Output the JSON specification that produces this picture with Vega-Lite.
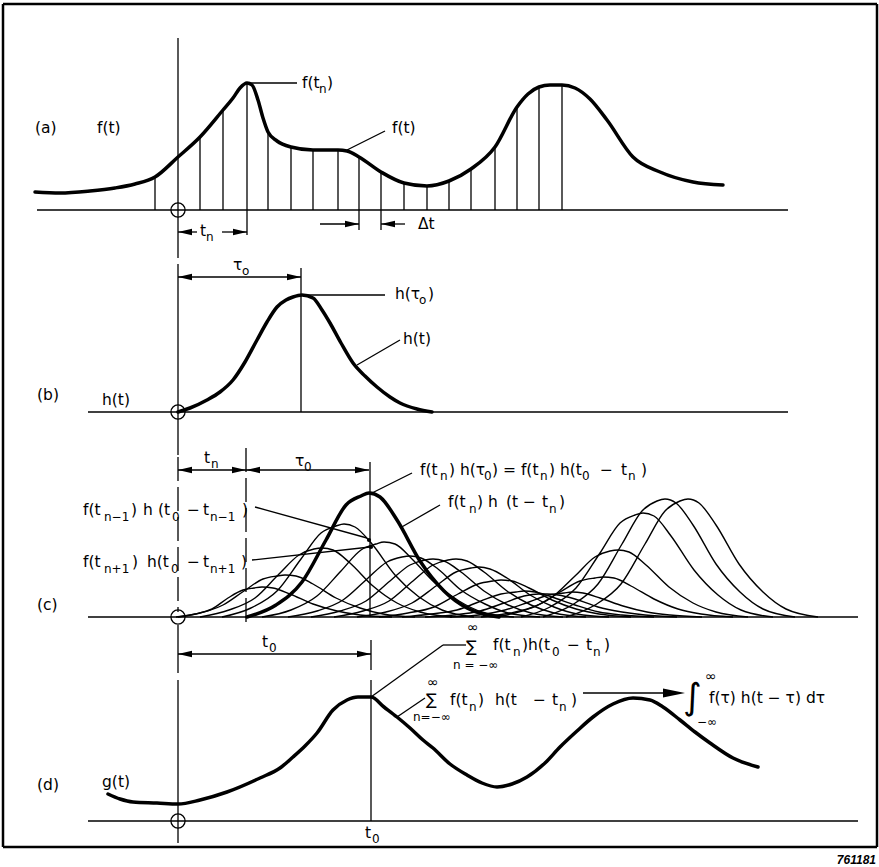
{
"$schema": "https://vega.github.io/schema/vega-lite/v6.json",
"width": 879, "height": 867, "padding": 0, "autosize": "none",
"background": "white",
"config": {"view": {"stroke": null}},
"datasets": {
"frame": [
{"x":3,"y":4,"x2":877,"y2":4},{"x":877,"y":4,"x2":877,"y2":847},{"x":877,"y":847,"x2":3,"y2":847},{"x":3,"y":847,"x2":3,"y2":4}
],
"seg": [
{"x":37,"y":210,"x2":788,"y2":210},{"x":88,"y":412,"x2":788,"y2":412},{"x":88,"y":617,"x2":858,"y2":617},{"x":88,"y":821,"x2":858,"y2":821},
{"x":178,"y":38,"x2":178,"y2":258},{"x":178,"y":264,"x2":178,"y2":455},{"x":178,"y":625,"x2":178,"y2":673},{"x":178,"y":680,"x2":178,"y2":843},
{"x":301,"y":268,"x2":301,"y2":412},{"x":370,"y":462,"x2":370,"y2":617},{"x":371,"y":640,"x2":371,"y2":670},{"x":371,"y":680,"x2":371,"y2":821},
{"x":155,"y":210,"x2":155,"y2":177},{"x":200,"y":210,"x2":200,"y2":137},{"x":223,"y":210,"x2":223,"y2":110},{"x":247,"y":235,"x2":247,"y2":83},
{"x":268,"y":210,"x2":268,"y2":132},{"x":291,"y":210,"x2":291,"y2":147},{"x":313,"y":210,"x2":313,"y2":150},{"x":338,"y":210,"x2":338,"y2":150},
{"x":359,"y":230,"x2":359,"y2":157},{"x":381,"y":230,"x2":381,"y2":172},{"x":404,"y":210,"x2":404,"y2":183},{"x":427,"y":210,"x2":427,"y2":186},
{"x":449,"y":210,"x2":449,"y2":181},{"x":471,"y":210,"x2":471,"y2":169},{"x":495,"y":210,"x2":495,"y2":147},{"x":517,"y":210,"x2":517,"y2":107},
{"x":539,"y":210,"x2":539,"y2":87},{"x":562,"y":210,"x2":562,"y2":85},
{"x":178,"y":232,"x2":197,"y2":232},{"x":222,"y":232,"x2":247,"y2":232},{"x":320,"y":224,"x2":359,"y2":224},{"x":381,"y":224,"x2":405,"y2":224},
{"x":178,"y":277,"x2":301,"y2":277},{"x":178,"y":470,"x2":246,"y2":470},{"x":246,"y":470,"x2":369,"y2":470},{"x":178,"y":654,"x2":371,"y2":654},
{"x":247,"y":83,"x2":297,"y2":83},{"x":347,"y":150,"x2":385,"y2":131},{"x":302,"y":295,"x2":385,"y2":295},{"x":357,"y":365,"x2":400,"y2":340},
{"x":372,"y":493,"x2":412,"y2":473},{"x":400,"y":528,"x2":440,"y2":505},{"x":255,"y":507,"x2":367,"y2":538},{"x":252,"y":560,"x2":370,"y2":547},
{"x":371,"y":697,"x2":443,"y2":645},{"x":443,"y":645,"x2":466,"y2":645},{"x":397,"y":717,"x2":425,"y2":698},{"x":583,"y":693,"x2":665,"y2":693}
],
"dash": [
{"x":178,"y":457,"x2":178,"y2":612},{"x":246,"y":448,"x2":246,"y2":627}
],
"thick": [
{"c":"f","x":35,"y":192},{"c":"f","x":60,"y":193},{"c":"f","x":90,"y":191},{"c":"f","x":115,"y":188},{"c":"f","x":135,"y":184},{"c":"f","x":155,"y":177},{"c":"f","x":178,"y":157},{"c":"f","x":200,"y":137},{"c":"f","x":223,"y":110},{"c":"f","x":233,"y":98},{"c":"f","x":240,"y":88},{"c":"f","x":247,"y":83},{"c":"f","x":252,"y":85},{"c":"f","x":258,"y":100},{"c":"f","x":263,"y":118},{"c":"f","x":268,"y":132},{"c":"f","x":277,"y":141},{"c":"f","x":291,"y":147},{"c":"f","x":313,"y":150},{"c":"f","x":338,"y":150},{"c":"f","x":347,"y":151},{"c":"f","x":359,"y":157},{"c":"f","x":381,"y":172},{"c":"f","x":404,"y":183},{"c":"f","x":427,"y":186},{"c":"f","x":449,"y":181},{"c":"f","x":471,"y":169},{"c":"f","x":495,"y":147},{"c":"f","x":517,"y":107},{"c":"f","x":528,"y":94},{"c":"f","x":539,"y":87},{"c":"f","x":550,"y":85},{"c":"f","x":562,"y":85},{"c":"f","x":575,"y":88},{"c":"f","x":590,"y":99},{"c":"f","x":607,"y":120},{"c":"f","x":633,"y":157},{"c":"f","x":660,"y":172},{"c":"f","x":693,"y":182},{"c":"f","x":723,"y":185},
{"c":"h","x":178,"y":412},{"c":"h","x":190,"y":408},{"c":"h","x":207,"y":400},{"c":"h","x":220,"y":392},{"c":"h","x":233,"y":380},{"c":"h","x":245,"y":362},{"c":"h","x":257,"y":340},{"c":"h","x":267,"y":322},{"c":"h","x":277,"y":307},{"c":"h","x":286,"y":300},{"c":"h","x":293,"y":297},{"c":"h","x":302,"y":295},{"c":"h","x":313,"y":298},{"c":"h","x":322,"y":310},{"c":"h","x":330,"y":323},{"c":"h","x":341,"y":343},{"c":"h","x":353,"y":363},{"c":"h","x":365,"y":376},{"c":"h","x":377,"y":387},{"c":"h","x":390,"y":397},{"c":"h","x":400,"y":403},{"c":"h","x":417,"y":409},{"c":"h","x":432,"y":412},
{"c":"H5","x":247,"y":617},{"c":"H5","x":276,"y":605},{"c":"H5","x":302,"y":582},{"c":"H5","x":326,"y":540},{"c":"H5","x":346,"y":505},{"c":"H5","x":361,"y":496},{"c":"H5","x":369,"y":493},{"c":"H5","x":380,"y":497},{"c":"H5","x":397,"y":520},{"c":"H5","x":420,"y":561},{"c":"H5","x":444,"y":591},{"c":"H5","x":467,"y":608},{"c":"H5","x":499,"y":617},
{"c":"g","x":108,"y":794},{"c":"g","x":120,"y":799},{"c":"g","x":133,"y":802},{"c":"g","x":157,"y":803},{"c":"g","x":178,"y":804},{"c":"g","x":200,"y":800},{"c":"g","x":227,"y":792},{"c":"g","x":260,"y":778},{"c":"g","x":280,"y":768},{"c":"g","x":293,"y":757},{"c":"g","x":305,"y":746},{"c":"g","x":317,"y":733},{"c":"g","x":333,"y":710},{"c":"g","x":347,"y":700},{"c":"g","x":358,"y":697},{"c":"g","x":371,"y":697},{"c":"g","x":384,"y":707},{"c":"g","x":397,"y":717},{"c":"g","x":410,"y":728},{"c":"g","x":423,"y":740},{"c":"g","x":433,"y":748},{"c":"g","x":450,"y":764},{"c":"g","x":467,"y":775},{"c":"g","x":482,"y":783},{"c":"g","x":497,"y":787},{"c":"g","x":512,"y":784},{"c":"g","x":527,"y":777},{"c":"g","x":545,"y":763},{"c":"g","x":560,"y":747},{"c":"g","x":577,"y":731},{"c":"g","x":593,"y":717},{"c":"g","x":613,"y":704},{"c":"g","x":633,"y":698},{"c":"g","x":650,"y":700},{"c":"g","x":663,"y":707},{"c":"g","x":680,"y":720},{"c":"g","x":695,"y":732},{"c":"g","x":710,"y":743},{"c":"g","x":733,"y":758},{"c":"g","x":758,"y":767}
],
"humps": [
{"g":"H1","x":176,"y":617},{"g":"H1","x":195,"y":614},{"g":"H1","x":212,"y":609},{"g":"H1","x":228,"y":598},{"g":"H1","x":243,"y":590},{"g":"H1","x":254,"y":588},{"g":"H1","x":262,"y":587},{"g":"H1","x":273,"y":588},{"g":"H1","x":290,"y":594},{"g":"H1","x":313,"y":604},{"g":"H1","x":337,"y":611},{"g":"H1","x":360,"y":615},{"g":"H1","x":392,"y":617},
{"g":"H2","x":178,"y":617},{"g":"H2","x":200,"y":613},{"g":"H2","x":223,"y":605},{"g":"H2","x":244,"y":591},{"g":"H2","x":263,"y":579},{"g":"H2","x":277,"y":576},{"g":"H2","x":285,"y":575},{"g":"H2","x":296,"y":576},{"g":"H2","x":313,"y":584},{"g":"H2","x":336,"y":598},{"g":"H2","x":360,"y":608},{"g":"H2","x":383,"y":614},{"g":"H2","x":415,"y":617},
{"g":"H3","x":200,"y":617},{"g":"H3","x":229,"y":610},{"g":"H3","x":255,"y":598},{"g":"H3","x":279,"y":574},{"g":"H3","x":299,"y":555},{"g":"H3","x":314,"y":549},{"g":"H3","x":322,"y":548},{"g":"H3","x":333,"y":550},{"g":"H3","x":350,"y":563},{"g":"H3","x":373,"y":586},{"g":"H3","x":397,"y":603},{"g":"H3","x":420,"y":612},{"g":"H3","x":452,"y":617},
{"g":"H4","x":222,"y":617},{"g":"H4","x":251,"y":608},{"g":"H4","x":277,"y":591},{"g":"H4","x":301,"y":559},{"g":"H4","x":321,"y":533},{"g":"H4","x":336,"y":526},{"g":"H4","x":344,"y":524},{"g":"H4","x":355,"y":527},{"g":"H4","x":372,"y":544},{"g":"H4","x":395,"y":575},{"g":"H4","x":419,"y":597},{"g":"H4","x":442,"y":610},{"g":"H4","x":474,"y":617},
{"g":"H6","x":262,"y":617},{"g":"H6","x":291,"y":610},{"g":"H6","x":317,"y":596},{"g":"H6","x":341,"y":571},{"g":"H6","x":361,"y":550},{"g":"H6","x":376,"y":544},{"g":"H6","x":384,"y":542},{"g":"H6","x":395,"y":544},{"g":"H6","x":412,"y":559},{"g":"H6","x":435,"y":583},{"g":"H6","x":459,"y":601},{"g":"H6","x":482,"y":612},{"g":"H6","x":514,"y":617},
{"g":"H7","x":288,"y":617},{"g":"H7","x":317,"y":611},{"g":"H7","x":343,"y":600},{"g":"H7","x":367,"y":579},{"g":"H7","x":387,"y":562},{"g":"H7","x":402,"y":557},{"g":"H7","x":410,"y":556},{"g":"H7","x":421,"y":558},{"g":"H7","x":438,"y":569},{"g":"H7","x":461,"y":590},{"g":"H7","x":485,"y":604},{"g":"H7","x":508,"y":613},{"g":"H7","x":540,"y":617},
{"g":"H8","x":311,"y":617},{"g":"H8","x":340,"y":611},{"g":"H8","x":366,"y":601},{"g":"H8","x":390,"y":581},{"g":"H8","x":410,"y":565},{"g":"H8","x":425,"y":560},{"g":"H8","x":433,"y":559},{"g":"H8","x":444,"y":561},{"g":"H8","x":461,"y":572},{"g":"H8","x":484,"y":591},{"g":"H8","x":508,"y":605},{"g":"H8","x":531,"y":613},{"g":"H8","x":563,"y":617},
{"g":"H9","x":334,"y":617},{"g":"H9","x":363,"y":611},{"g":"H9","x":389,"y":601},{"g":"H9","x":413,"y":581},{"g":"H9","x":433,"y":565},{"g":"H9","x":448,"y":560},{"g":"H9","x":456,"y":559},{"g":"H9","x":467,"y":561},{"g":"H9","x":484,"y":572},{"g":"H9","x":507,"y":591},{"g":"H9","x":531,"y":605},{"g":"H9","x":554,"y":613},{"g":"H9","x":586,"y":617},
{"g":"H10","x":357,"y":617},{"g":"H10","x":386,"y":612},{"g":"H10","x":412,"y":603},{"g":"H10","x":436,"y":586},{"g":"H10","x":456,"y":572},{"g":"H10","x":471,"y":568},{"g":"H10","x":479,"y":567},{"g":"H10","x":490,"y":569},{"g":"H10","x":507,"y":578},{"g":"H10","x":530,"y":595},{"g":"H10","x":554,"y":607},{"g":"H10","x":577,"y":614},{"g":"H10","x":609,"y":617},
{"g":"H11","x":379,"y":617},{"g":"H11","x":408,"y":613},{"g":"H11","x":434,"y":607},{"g":"H11","x":458,"y":594},{"g":"H11","x":478,"y":584},{"g":"H11","x":493,"y":581},{"g":"H11","x":501,"y":580},{"g":"H11","x":512,"y":581},{"g":"H11","x":529,"y":588},{"g":"H11","x":552,"y":600},{"g":"H11","x":576,"y":609},{"g":"H11","x":599,"y":614},{"g":"H11","x":631,"y":617},
{"g":"H12","x":402,"y":617},{"g":"H12","x":431,"y":614},{"g":"H12","x":457,"y":610},{"g":"H12","x":481,"y":601},{"g":"H12","x":501,"y":594},{"g":"H12","x":516,"y":592},{"g":"H12","x":524,"y":591},{"g":"H12","x":535,"y":592},{"g":"H12","x":552,"y":597},{"g":"H12","x":575,"y":605},{"g":"H12","x":599,"y":612},{"g":"H12","x":622,"y":615},{"g":"H12","x":654,"y":617},
{"g":"H13","x":425,"y":617},{"g":"H13","x":454,"y":615},{"g":"H13","x":480,"y":611},{"g":"H13","x":504,"y":603},{"g":"H13","x":524,"y":596},{"g":"H13","x":539,"y":594},{"g":"H13","x":547,"y":594},{"g":"H13","x":558,"y":595},{"g":"H13","x":575,"y":599},{"g":"H13","x":598,"y":607},{"g":"H13","x":622,"y":612},{"g":"H13","x":645,"y":615},{"g":"H13","x":677,"y":617},
{"g":"H14","x":450,"y":617},{"g":"H14","x":479,"y":615},{"g":"H14","x":505,"y":610},{"g":"H14","x":529,"y":602},{"g":"H14","x":549,"y":595},{"g":"H14","x":564,"y":593},{"g":"H14","x":572,"y":592},{"g":"H14","x":583,"y":593},{"g":"H14","x":600,"y":598},{"g":"H14","x":623,"y":606},{"g":"H14","x":647,"y":612},{"g":"H14","x":670,"y":615},{"g":"H14","x":702,"y":617},
{"g":"H15","x":481,"y":617},{"g":"H15","x":510,"y":613},{"g":"H15","x":536,"y":606},{"g":"H15","x":560,"y":592},{"g":"H15","x":580,"y":581},{"g":"H15","x":595,"y":578},{"g":"H15","x":603,"y":577},{"g":"H15","x":614,"y":578},{"g":"H15","x":631,"y":586},{"g":"H15","x":654,"y":599},{"g":"H15","x":678,"y":609},{"g":"H15","x":701,"y":614},{"g":"H15","x":733,"y":617},
{"g":"H16","x":496,"y":617},{"g":"H16","x":525,"y":610},{"g":"H16","x":551,"y":598},{"g":"H16","x":575,"y":576},{"g":"H16","x":595,"y":557},{"g":"H16","x":610,"y":551},{"g":"H16","x":618,"y":550},{"g":"H16","x":629,"y":552},{"g":"H16","x":646,"y":565},{"g":"H16","x":669,"y":587},{"g":"H16","x":693,"y":603},{"g":"H16","x":716,"y":612},{"g":"H16","x":748,"y":617},
{"g":"H17","x":521,"y":617},{"g":"H17","x":550,"y":607},{"g":"H17","x":576,"y":588},{"g":"H17","x":600,"y":553},{"g":"H17","x":620,"y":523},{"g":"H17","x":635,"y":515},{"g":"H17","x":643,"y":513},{"g":"H17","x":654,"y":516},{"g":"H17","x":671,"y":536},{"g":"H17","x":694,"y":570},{"g":"H17","x":718,"y":595},{"g":"H17","x":741,"y":610},{"g":"H17","x":773,"y":617},
{"g":"H18","x":543,"y":617},{"g":"H18","x":572,"y":605},{"g":"H18","x":598,"y":584},{"g":"H18","x":622,"y":544},{"g":"H18","x":642,"y":511},{"g":"H18","x":657,"y":501},{"g":"H18","x":665,"y":499},{"g":"H18","x":676,"y":503},{"g":"H18","x":693,"y":525},{"g":"H18","x":716,"y":564},{"g":"H18","x":740,"y":592},{"g":"H18","x":763,"y":609},{"g":"H18","x":795,"y":617},
{"g":"H19","x":566,"y":617},{"g":"H19","x":595,"y":605},{"g":"H19","x":621,"y":584},{"g":"H19","x":645,"y":544},{"g":"H19","x":665,"y":511},{"g":"H19","x":680,"y":501},{"g":"H19","x":688,"y":499},{"g":"H19","x":699,"y":503},{"g":"H19","x":716,"y":525},{"g":"H19","x":739,"y":564},{"g":"H19","x":763,"y":592},{"g":"H19","x":786,"y":609},{"g":"H19","x":818,"y":617}
],
"heads": [
{"x":178,"y":232,"d":"L"},{"x":247,"y":232,"d":"R"},{"x":359,"y":224,"d":"R"},{"x":381,"y":224,"d":"L"},
{"x":178,"y":277,"d":"L"},{"x":301,"y":277,"d":"R"},
{"x":178,"y":470,"d":"L"},{"x":246,"y":470,"d":"R"},{"x":246,"y":470,"d":"L"},{"x":369,"y":470,"d":"R"},
{"x":178,"y":654,"d":"L"},{"x":371,"y":654,"d":"R"}
],
"bighead": [{"x":685,"y":693}],
"circles": [{"x":178,"y":210},{"x":178,"y":412},{"x":178,"y":617},{"x":178,"y":821}],
"dots": [{"x":369,"y":540},{"x":371,"y":547}],
"txt": [
{"x":35,"y":128,"t":"(a)"},{"x":97,"y":128,"t":"f(t)"},{"x":302,"y":83,"t":"f(t"},{"x":327,"y":83,"t":")"},{"x":392,"y":128,"t":"f(t)"},
{"x":200,"y":231,"t":"t"},{"x":418,"y":224,"t":"Δt"},
{"x":233,"y":265,"t":"τ"},{"x":395,"y":294,"t":"h(τ"},{"x":428,"y":294,"t":")"},{"x":403,"y":339,"t":"h(t)"},{"x":37,"y":395,"t":"(b)"},{"x":102,"y":400,"t":"h(t)"},
{"x":204,"y":458,"t":"t"},{"x":295,"y":461,"t":"τ"},
{"x":420,"y":470,"t":"f(t"},{"x":449,"y":470,"t":") h(τ"},{"x":492,"y":470,"t":") = f(t"},{"x":549,"y":470,"t":") h(t"},{"x":600,"y":470,"t":"−"},{"x":621,"y":470,"t":"t"},{"x":641,"y":470,"t":")"},
{"x":448,"y":502,"t":"f(t"},{"x":477,"y":502,"t":") h"},{"x":506,"y":502,"t":"(t"},{"x":523,"y":502,"t":"−"},{"x":542,"y":502,"t":"t"},{"x":559,"y":502,"t":")"},
{"x":83,"y":510,"t":"f(t"},{"x":131,"y":510,"t":")"},{"x":143,"y":510,"t":"h"},{"x":158,"y":510,"t":"(t"},{"x":187,"y":510,"t":"−"},{"x":203,"y":510,"t":"t"},{"x":242,"y":510,"t":")"},
{"x":83,"y":562,"t":"f(t"},{"x":132,"y":562,"t":")"},{"x":147,"y":562,"t":"h(t"},{"x":187,"y":562,"t":"−"},{"x":203,"y":562,"t":"t"},{"x":241,"y":562,"t":")"},
{"x":37,"y":605,"t":"(c)"},
{"x":262,"y":642,"t":"t"},
{"x":493,"y":645,"t":"f(t"},{"x":522,"y":645,"t":")h(t"},{"x":567,"y":645,"t":"−"},{"x":586,"y":645,"t":"t"},{"x":604,"y":645,"t":")"},
{"x":450,"y":700,"t":"f(t"},{"x":478,"y":700,"t":")"},{"x":495,"y":700,"t":"h(t"},{"x":533,"y":700,"t":"−"},{"x":552,"y":700,"t":"t"},{"x":571,"y":700,"t":")"},
{"x":709,"y":698,"t":"f(τ) h(t − τ) dτ"},
{"x":37,"y":785,"t":"(d)"},{"x":102,"y":782,"t":"g(t)"},{"x":365,"y":833,"t":"t"}
],
"sub": [
{"x":319,"y":89,"t":"n"},{"x":206,"y":237,"t":"n"},{"x":242,"y":271,"t":"o"},{"x":419,"y":300,"t":"o"},
{"x":211,"y":464,"t":"n"},{"x":304,"y":467,"t":"0"},
{"x":440,"y":476,"t":"n"},{"x":484,"y":476,"t":"0"},{"x":540,"y":476,"t":"n"},{"x":582,"y":476,"t":"0"},{"x":628,"y":476,"t":"n"},
{"x":469,"y":509,"t":"n"},{"x":549,"y":509,"t":"n"},
{"x":104,"y":517,"t":"n−1"},{"x":172,"y":517,"t":"0"},{"x":210,"y":517,"t":"n−1"},
{"x":104,"y":569,"t":"n+1"},{"x":171,"y":569,"t":"0"},{"x":210,"y":569,"t":"n+1"},
{"x":269,"y":648,"t":"0"},
{"x":513,"y":652,"t":"n"},{"x":552,"y":652,"t":"0"},{"x":593,"y":652,"t":"n"},
{"x":469,"y":707,"t":"n"},{"x":559,"y":707,"t":"n"},
{"x":372,"y":839,"t":"0"}
],
"small": [
{"x":453,"y":665,"t":"n = −∞"},{"x":413,"y":717,"t":"n=−∞"},{"x":697,"y":722,"t":"−∞"}
],
"inf": [
{"x":467,"y":628,"t":"∞"},{"x":427,"y":683,"t":"∞"},{"x":705,"y":677,"t":"∞"}
],
"sigma": [{"x":466,"y":647,"t":"∑"},{"x":426,"y":700,"t":"∑"}],
"integral": [{"x":683,"y":698,"t":"∫"}],
"code": [{"x":876,"y":860,"t":"761181"}]
},
"encoding": {
"x": {"field":"x","type":"quantitative","scale":{"domain":[0,879],"nice":false,"zero":false},"axis":null},
"y": {"field":"y","type":"quantitative","scale":{"domain":[0,867],"nice":false,"zero":false,"reverse":true},"axis":null}
},
"layer": [
{"data":{"name":"frame"},"mark":{"type":"rule","color":"black","strokeWidth":2.5},"encoding":{"x2":{"field":"x2"},"y2":{"field":"y2"}}},
{"data":{"name":"seg"},"mark":{"type":"rule","color":"black","strokeWidth":1.3},"encoding":{"x2":{"field":"x2"},"y2":{"field":"y2"}}},
{"data":{"name":"dash"},"mark":{"type":"rule","color":"black","strokeWidth":1.3,"strokeDash":[24,6]},"encoding":{"x2":{"field":"x2"},"y2":{"field":"y2"}}},
{"data":{"name":"humps"},"mark":{"type":"line","color":"black","strokeWidth":1.4,"interpolate":"monotone"},"encoding":{"detail":{"field":"g"}}},
{"data":{"name":"thick"},"mark":{"type":"line","color":"black","strokeWidth":3.5,"interpolate":"monotone","strokeJoin":"round","strokeCap":"round"},"encoding":{"detail":{"field":"c"}}},
{"data":{"name":"heads"},"mark":{"type":"point","filled":true,"color":"black","size":196,"strokeWidth":0,"opacity":1},"encoding":{"shape":{"field":"d","type":"nominal","scale":{"domain":["L","R"],"range":["M0,0L2,-0.45L2,0.45Z","M0,0L-2,-0.45L-2,0.45Z"]},"legend":null}}},
{"data":{"name":"bighead"},"mark":{"type":"point","filled":true,"color":"black","size":484,"strokeWidth":0,"opacity":1,"shape":"M0,0L-2,-0.4L-2,0.4Z"}},
{"data":{"name":"circles"},"mark":{"type":"point","filled":false,"color":"black","size":200,"strokeWidth":1.3,"opacity":1,"shape":"circle"}},
{"data":{"name":"dots"},"mark":{"type":"point","filled":true,"color":"black","size":18,"opacity":1,"shape":"circle"}},
{"data":{"name":"txt"},"mark":{"type":"text","align":"left","baseline":"middle","font":"DejaVu Sans","fontSize":15.5,"color":"black"},"encoding":{"text":{"field":"t"}}},
{"data":{"name":"sub"},"mark":{"type":"text","align":"left","baseline":"middle","font":"DejaVu Sans","fontSize":12,"color":"black"},"encoding":{"text":{"field":"t"}}},
{"data":{"name":"small"},"mark":{"type":"text","align":"left","baseline":"middle","font":"DejaVu Sans","fontSize":12,"color":"black"},"encoding":{"text":{"field":"t"}}},
{"data":{"name":"inf"},"mark":{"type":"text","align":"left","baseline":"middle","font":"DejaVu Sans","fontSize":14,"color":"black"},"encoding":{"text":{"field":"t"}}},
{"data":{"name":"sigma"},"mark":{"type":"text","align":"left","baseline":"middle","font":"DejaVu Sans","fontSize":16,"color":"black"},"encoding":{"text":{"field":"t"}}},
{"data":{"name":"integral"},"mark":{"type":"text","align":"left","baseline":"middle","font":"DejaVu Sans","fontSize":36,"color":"black"},"encoding":{"text":{"field":"t"}}},
{"data":{"name":"code"},"mark":{"type":"text","align":"right","baseline":"middle","font":"Liberation Sans","fontSize":12,"fontWeight":"bold","fontStyle":"italic","color":"black"},"encoding":{"text":{"field":"t"}}}
]
}
